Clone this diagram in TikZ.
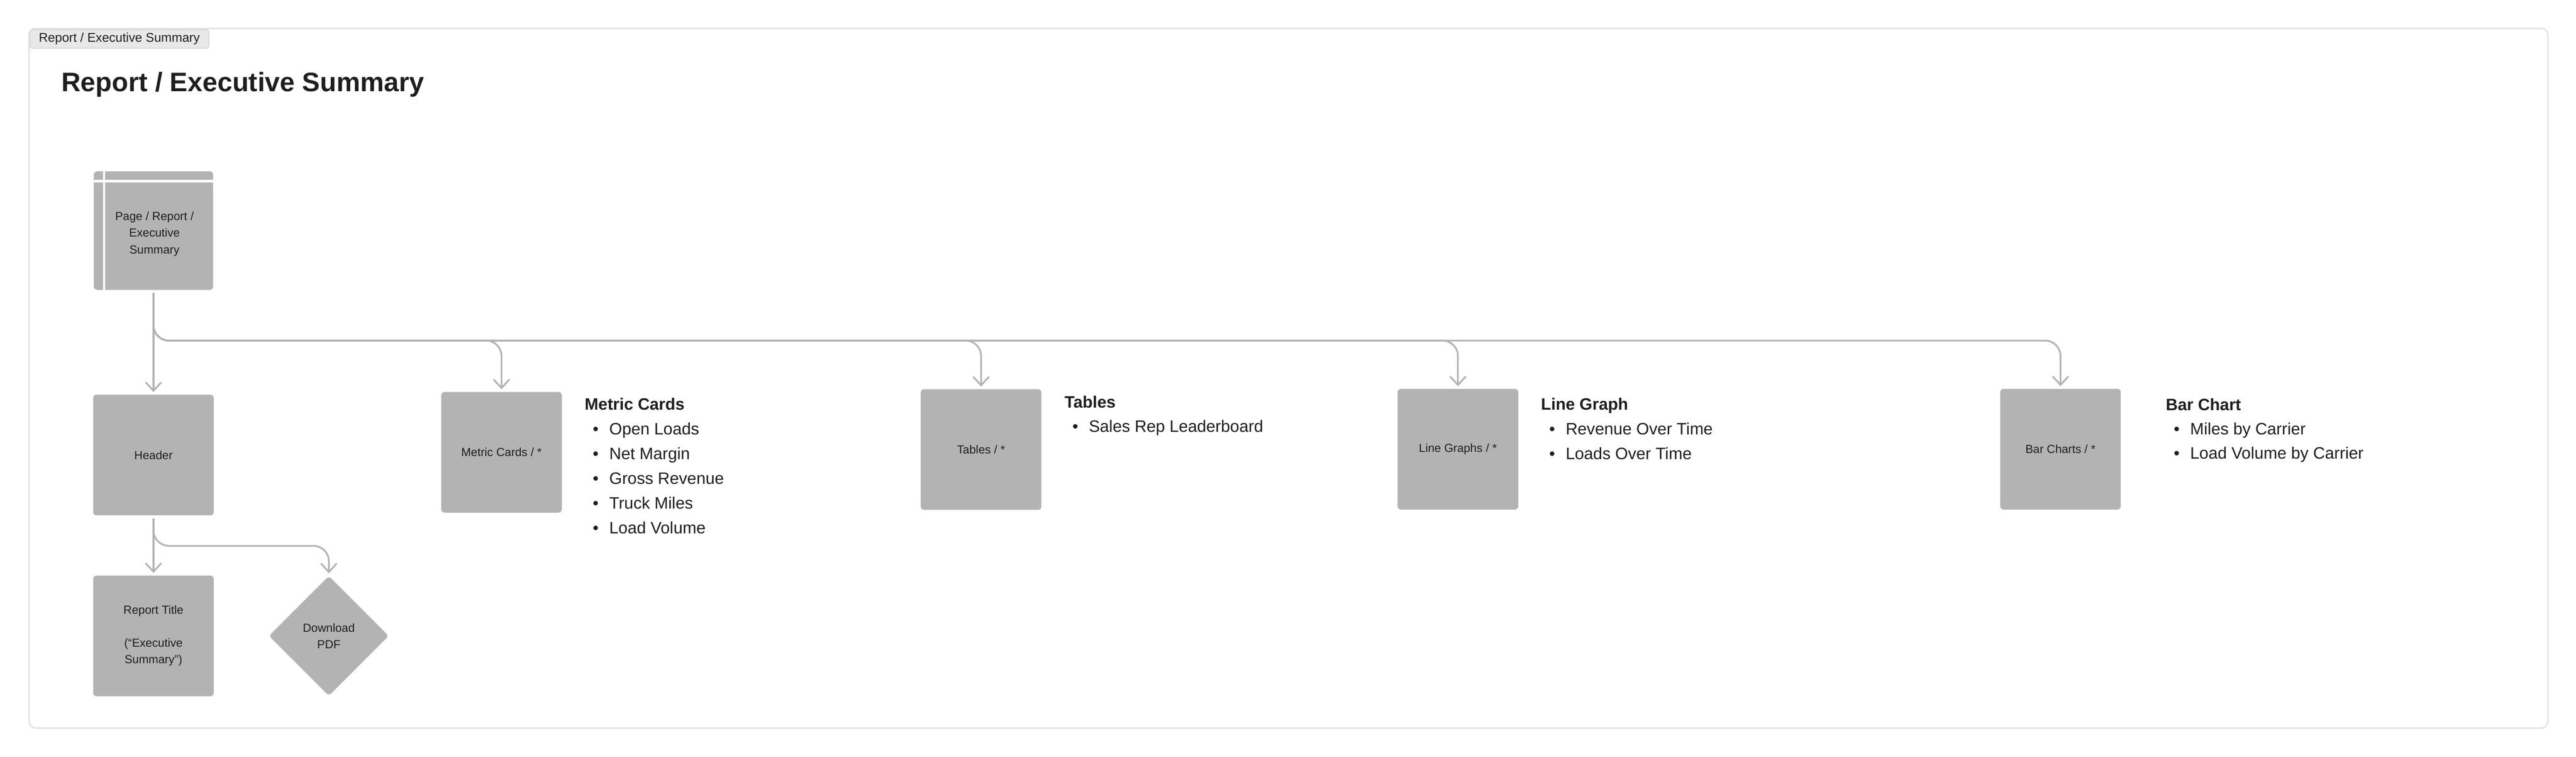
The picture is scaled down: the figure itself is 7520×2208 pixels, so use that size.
\documentclass[tikz,border=0pt]{standalone}
\usepackage{fontspec}
\setmainfont{Liberation Sans}
\usetikzlibrary{arrows.meta,shapes.geometric}

\definecolor{boxgrey}{HTML}{B3B3B3}
\definecolor{framegrey}{HTML}{E6E6E6}
\definecolor{tabgrey}{HTML}{E8E8E8}
\definecolor{tabline}{HTML}{CCCCCC}
\definecolor{ink}{HTML}{1E1E1E}

\tikzset{>={Straight Barb[length=0.25cm,width=0.46cm]}}
\newcommand{\boxsize}{\fontsize{9.7pt}{13.7pt}\selectfont}
\newcommand{\listsize}{\fontsize{13.7pt}{20.5pt}\selectfont}
\newcommand{\bulletbox}{\makebox[0.48cm][l]{\textbullet}}

\tikzset{
  card/.style={fill=boxgrey, rounded corners=0.1cm, minimum width=3.52cm,
    minimum height=3.52cm, inner sep=0pt, text=ink, font=\boxsize, align=center},
  link/.style={->, draw=boxgrey, line width=0.05cm, rounded corners=0.45cm,
    shorten >=0.07cm, shorten <=0.08cm},
  head/.style={anchor=base west, text=ink, font=\listsize\bfseries, inner sep=0pt},
  item/.style={anchor=base west, text=ink, font=\listsize, inner sep=0pt},
  tab/.style={draw=tabline, fill=tabgrey, line width=0.02cm, rounded corners=0.1cm,
    minimum width=5.23cm, minimum height=0.55cm, inner sep=0pt, text=ink,
    font=\fontsize{10.5pt}{12pt}\selectfont}
}

\begin{document}
\begin{tikzpicture}[x=0.01cm, y=-0.01cm]
  \useasboundingbox (0,0) rectangle (7520,2208);
  \fill[white] (0,0) rectangle (7520,2208);
  \draw[framegrey, line width=0.05cm, rounded corners=0.2cm] (85,83) rectangle (7438,2125);
  \node[tab] (tab) at (348.5,113.5) {Report / Executive Summary};
  \node[anchor=base west, inner sep=0pt, text=ink, font=\fontsize{22.2pt}{26pt}\selectfont\bfseries]
    (title) at (179,267) {Report / Executive Summary};

  \node[card, minimum width=3.48cm, minimum height=3.46cm] (page) at (448,673) {};
  \draw[white, line width=0.07cm] (304,500) -- (304,846);
  \draw[white, line width=0.07cm] (274,529) -- (622,529);
  \node[text=ink, font=\boxsize, align=center, inner sep=0pt] (pagelabel) at (451,683)
    {Page / Report /\\Executive\\Summary};

  \node[card] (header) at (448,1328) {Header};
  \node[card] (rtitle) at (448,1856) {Report Title\\[13.7pt](“Executive\\Summary”)};
  \node[card, diamond, minimum width=3.5cm, minimum height=3.5cm] (pdf) at (960,1856) {Download\\PDF};

  \node[card] (cards) at (1464,1320) {Metric Cards / *};
  \node[card] (tables) at (2864,1312) {Tables / *};
  \node[card] (lines) at (4256,1311) {Line Graphs / *};
  \node[card] (bars) at (6015,1311) {Bar Charts / *};

  \coordinate (bus) at (0,994);
  \coordinate (split) at (0,1593);
  \draw[link] (page) -- (header);
  \foreach \n in {cards,tables,lines,bars}
    \draw[link] (page.south) |- (bus -| \n.north) -- (\n.north);
  \draw[link] (header) -- (rtitle);
  \draw[link] (header.south) |- (split -| pdf.north) -- (pdf.north);

  \node[head] (cardshead) at (1706,1197) {Metric Cards};
  \foreach \t [count=\i] in {Open Loads,Net Margin,Gross Revenue,Truck Miles,Load Volume}
    \node[item] (carditem\i) at (1730,{1197+72*\i}) {\bulletbox\t};
  \node[head] (tableshead) at (3107,1190) {Tables};
  \node[item] (tableitem1) at (3130,1261) {\bulletbox Sales Rep Leaderboard};
  \node[head] (lineshead) at (4498,1197) {Line Graph};
  \foreach \t [count=\i] in {Revenue Over Time,Loads Over Time}
    \node[item] (lineitem\i) at (4522,{1197+72*\i}) {\bulletbox\t};
  \node[head] (barshead) at (6322,1198) {Bar Chart};
  \foreach \t [count=\i] in {Miles by Carrier,Load Volume by Carrier}
    \node[item] (baritem\i) at (6345,{1198+71*\i}) {\bulletbox\t};
\end{tikzpicture}
\end{document}
